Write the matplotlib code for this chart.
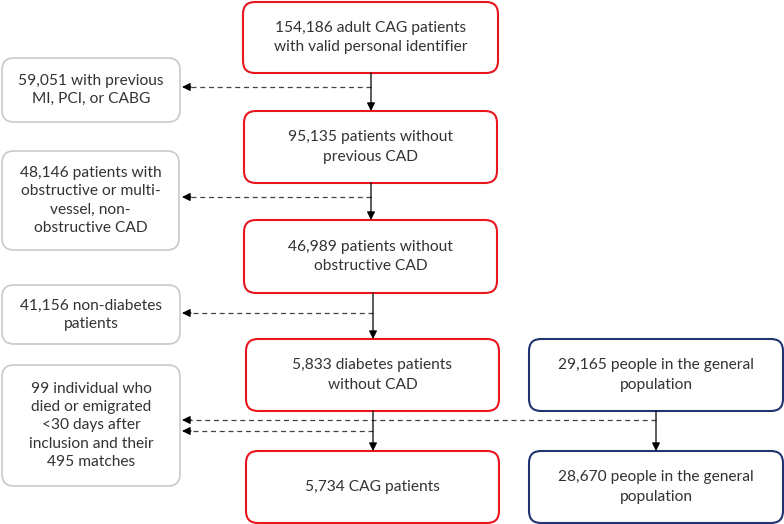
import matplotlib.pyplot as plt
from matplotlib.patches import FancyBboxPatch

plt.rcParams['font.family'] = ['Lato', 'DejaVu Sans']

# box texts
main_labels = ["154,186 adult CAG patients\nwith valid personal identifier",
               "95,135 patients without\nprevious CAD",
               "46,989 patients without\nobstructive CAD",
               "5,833 diabetes patients\nwithout CAD",
               "5,734 CAG patients"]
pop_labels = ["29,165 people in the general\npopulation",
              "28,670 people in the general\npopulation"]
excl_labels = ["59,051 with previous\nMI, PCI, or CABG",
               "48,146 patients with\nobstructive or multi-\nvessel, non-\nobstructive CAD",
               "41,156 non-diabetes\npatients",
               "99 individual who\ndied or emigrated\n<30 days after\ninclusion and their\n495 matches"]

RED = "#e8161e"
BLUE = "#1f3470"
GREY = "#c9c9c9"
TXT = "#333333"

# layout in pixel units (x0, y0, x1, y1)
main_boxes = [(243, 2, 498, 73), (244, 111, 497, 183), (244, 220, 497, 293),
              (246, 339, 499, 411), (246, 451, 499, 523)]
pop_boxes = [(529, 339, 783, 411), (529, 451, 783, 523)]
excl_boxes = [(2, 58, 180, 122), (2, 151, 179, 250), (2, 285, 180, 344),
              (2, 365, 180, 486)]

fig = plt.figure(figsize=(7.84, 5.24), dpi=100)
ax = fig.add_axes([0, 0, 1, 1])
ax.set_xlim(0, 784)
ax.set_ylim(524, 0)
ax.axis('off')


def box(b, label, color, lw=1.5, ls=1.5):
    x0, y0, x1, y1 = b
    p = FancyBboxPatch((x0, y0), x1 - x0, y1 - y0,
                       boxstyle="round,pad=0,rounding_size=12",
                       fc="white", ec=color, lw=lw)
    ax.add_patch(p)
    ax.text((x0 + x1) / 2, (y0 + y1) / 2, label, ha='center', va='center',
            fontsize=11.2, color=TXT, linespacing=ls)


for b, t in zip(main_boxes, main_labels):
    box(b, t, RED)
for b, t in zip(pop_boxes, pop_labels):
    box(b, t, BLUE)
for b, t in zip(excl_boxes, excl_labels):
    box(b, t, GREY, lw=1.2, ls=1.38)


def arrow_down(x, y0, y1):
    ax.annotate("", xy=(x, y1), xytext=(x, y0),
                arrowprops=dict(arrowstyle='-|>', color='black', lw=0.9,
                                mutation_scale=12, shrinkA=0, shrinkB=0))


def dashed_left(x0, x1, y):
    ax.plot([x0, x1 + 8], [y, y], color='#444444', lw=0.9, ls=(0, (4, 3)))
    ax.annotate("", xy=(x1, y), xytext=(x1 + 9, y),
                arrowprops=dict(arrowstyle='-|>', color='black', lw=0.9,
                                mutation_scale=12, shrinkA=0, shrinkB=0))


arrow_down(371, 73, 111)
dashed_left(371, 182, 87)
arrow_down(371, 183, 220)
dashed_left(371, 182, 197)
arrow_down(373, 293, 339)
dashed_left(373, 182, 313)
arrow_down(373, 411, 451)
dashed_left(373, 182, 431)
arrow_down(656, 411, 451)
dashed_left(656, 182, 420)

fig.savefig("out.png", dpi=100)
